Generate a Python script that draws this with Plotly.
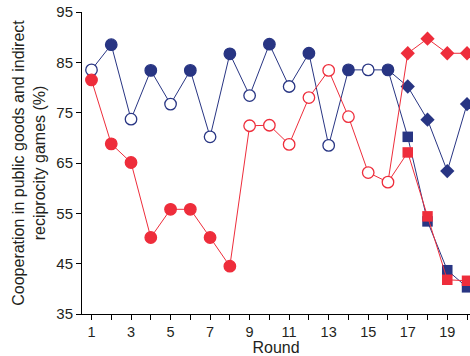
import plotly.graph_objects as go

# Cooperation (%) per round
rounds = list(range(1, 17))
blue_vals = [83.5, 88.5, 73.7, 83.4, 76.7, 83.4, 70.2, 86.7,
             78.4, 88.6, 80.2, 86.8, 68.5, 83.5, 83.5, 83.5]
red_vals = [81.5, 68.8, 65.1, 50.2, 55.8, 55.8, 50.2, 44.5,
            72.4, 72.5, 68.7, 78.0, 83.4, 74.2, 63.1, 61.2]
blue_filled = [False, True, False, True, False, True, False, True,
               False, True, False, True, False, True, False, True]
red_filled = [True] * 8 + [False] * 8

late_rounds = [17, 18, 19, 20]
blue_diamond = [80.2, 73.6, 63.4, 76.7]
red_diamond = [86.8, 89.7, 86.8, 86.8]
blue_square = [70.2, 53.4, 43.7, 40.3]
red_square = [67.1, 54.4, 41.8, 41.6]

BLUE = "#283583"
RED = "#ee2d3b"
TXT = "#231f20"
FONT = "Liberation Sans, Arial, sans-serif"

fig = go.Figure()


def add_series(vals, filled, diamond, square, color):
    fills = [color if f else "white" for f in filled]
    # branch to squares
    fig.add_trace(go.Scatter(
        x=[rounds[-1]] + late_rounds, y=[vals[-1]] + square,
        mode="lines", line=dict(color=color, width=1), hoverinfo="skip"))
    # main line through circles and diamonds
    fig.add_trace(go.Scatter(
        x=rounds + late_rounds, y=vals + diamond,
        mode="lines", line=dict(color=color, width=1), hoverinfo="skip"))
    fig.add_trace(go.Scatter(
        x=rounds, y=vals, mode="markers",
        marker=dict(symbol="circle", size=11.5, color=fills,
                    line=dict(color=color, width=1.3))))
    fig.add_trace(go.Scatter(
        x=late_rounds, y=diamond, mode="markers",
        marker=dict(symbol="diamond", size=11, color=color,
                    line=dict(width=0))))
    fig.add_trace(go.Scatter(
        x=late_rounds, y=square, mode="markers",
        marker=dict(symbol="square", size=10.5, color=color,
                    line=dict(width=0))))


add_series(blue_vals, blue_filled, blue_diamond, blue_square, BLUE)
add_series(red_vals, red_filled, red_diamond, red_square, RED)

x_ticks = list(range(1, 21))
x_labels = [str(r) if r % 2 == 1 else "" for r in x_ticks]
y_ticks = [35, 45, 55, 65, 75, 85, 95]

fig.update_layout(
    width=470, height=356,
    margin=dict(l=82, r=0, t=12, b=42),
    paper_bgcolor="white", plot_bgcolor="white",
    showlegend=False,
    font=dict(family=FONT, color=TXT, size=14),
    xaxis=dict(
        range=[0.52, 20.15], tickmode="array", tickvals=x_ticks,
        ticktext=x_labels, ticks="outside", ticklen=5, tickwidth=1,
        tickcolor="black", showline=True, linecolor="black", linewidth=1,
        showgrid=False, zeroline=False,
        title=dict(text="Round", font=dict(size=16), standoff=4),
        tickfont=dict(size=14.5),
    ),
    yaxis=dict(
        range=[35, 95], tickmode="array", tickvals=y_ticks,
        ticks="outside", ticklen=5, tickwidth=1, tickcolor="black",
        showline=True, linecolor="black", linewidth=1,
        showgrid=False, zeroline=False,
        title=dict(text="Cooperation in public goods and indirect<br>reciprocity games (%)",
                   font=dict(size=16), standoff=6),
        tickfont=dict(size=15),
    ),
)

fig.write_html("out.html")
